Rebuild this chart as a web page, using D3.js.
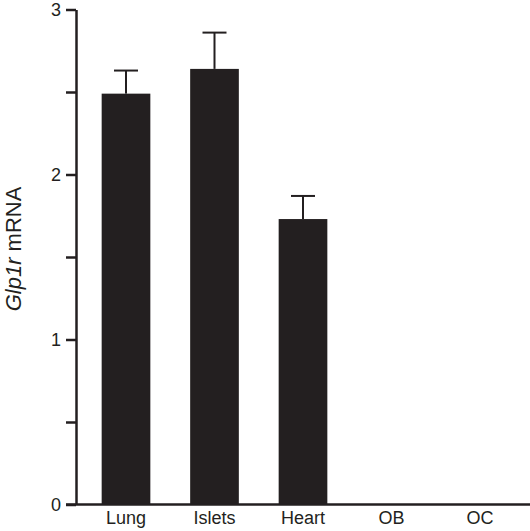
<!DOCTYPE html>
<html>
<head>
<meta charset="utf-8">
<script src="https://cdn.jsdelivr.net/npm/d3@7"></script>
<style>
  body { margin: 0; background: #fff; }
  text { font-family: "Liberation Sans", Arial, sans-serif; fill: #231f20; }
</style>
</head>
<body>
<script>
// tissues and Glp1r mRNA levels (mean, upper error)
var tissues = ["Lung", "Islets", "Heart", "OB", "OC"];
var means = [2.49, 2.64, 1.73, 0, 0];
var errors = [0.14, 0.22, 0.14, 0, 0];
var yTicks = [0, 0.5, 1, 1.5, 2, 2.5, 3];
var yLabels = [0, 1, 2, 3];

var width = 530, height = 531;
var margin = {top: 9.5, right: 0, bottom: 26.5, left: 76};

var svg = d3.select("body").append("svg")
    .attr("width", width)
    .attr("height", height);

var x = d3.scaleBand()
    .domain(tissues)
    .range([margin.left, width - margin.right])
    .paddingInner(0.45)
    .paddingOuter(0.29);

var y = d3.scaleLinear()
    .domain([0, 3])
    .range([height - margin.bottom, margin.top]);

var data = tissues.map(function (t, i) {
  return {name: t, mean: means[i], err: errors[i]};
});

// bars
svg.selectAll("rect.bar")
  .data(data.filter(function (d) { return d.mean > 0; }))
  .enter().append("rect")
    .attr("class", "bar")
    .attr("x", function (d) { return x(d.name); })
    .attr("width", x.bandwidth())
    .attr("y", function (d) { return y(d.mean); })
    .attr("height", function (d) { return y(0) - y(d.mean); })
    .style("fill", "#231f20");

// error bars (upper only)
var errG = svg.selectAll("g.err")
  .data(data.filter(function (d) { return d.mean > 0; }))
  .enter().append("g")
    .attr("class", "err")
    .style("stroke", "#231f20")
    .style("stroke-width", 2);

errG.append("line")
    .attr("x1", function (d) { return x(d.name) + x.bandwidth() / 2; })
    .attr("x2", function (d) { return x(d.name) + x.bandwidth() / 2; })
    .attr("y1", function (d) { return y(d.mean); })
    .attr("y2", function (d) { return y(d.mean + d.err); });

errG.append("line")
    .attr("x1", function (d) { return x(d.name) + x.bandwidth() / 2 - 12; })
    .attr("x2", function (d) { return x(d.name) + x.bandwidth() / 2 + 12; })
    .attr("y1", function (d) { return y(d.mean + d.err); })
    .attr("y2", function (d) { return y(d.mean + d.err); });

// y axis
var yAxis = svg.append("g")
    .attr("transform", "translate(" + margin.left + ",0)")
    .call(d3.axisLeft(y)
      .tickValues(yTicks)
      .tickSize(10)
      .tickSizeOuter(0)
      .tickFormat(function (d) { return yLabels.indexOf(d) >= 0 ? d : ""; }));

yAxis.select(".domain").style("stroke", "#231f20").style("stroke-width", 2.5);
yAxis.selectAll(".tick line").style("stroke", "#231f20").style("stroke-width", 2.5);
yAxis.selectAll(".tick text")
    .attr("x", -15)
    .style("font-size", "18px")
    .style("font-family", "Liberation Sans, Arial, sans-serif")
    .style("fill", "#231f20");

// x axis
var xAxis = svg.append("g")
    .attr("transform", "translate(0," + y(0) + ")")
    .call(d3.axisBottom(x).tickSize(0).tickSizeOuter(0));

xAxis.select(".domain")
    .attr("d", "M" + (margin.left - 10) + ",0H" + width)
    .style("stroke", "#231f20")
    .style("stroke-width", 2.5);
xAxis.selectAll(".tick text")
    .attr("y", 7)
    .style("font-size", "18px")
    .style("font-family", "Liberation Sans, Arial, sans-serif")
    .style("fill", "#231f20");

// y axis title
var title = svg.append("text")
    .attr("transform", "translate(21,249) rotate(-90)")
    .attr("text-anchor", "middle")
    .style("font-size", "22px");
title.append("tspan").style("font-style", "italic").text("Glp1r");
title.append("tspan").text(" mRNA");
</script>
</body>
</html>
